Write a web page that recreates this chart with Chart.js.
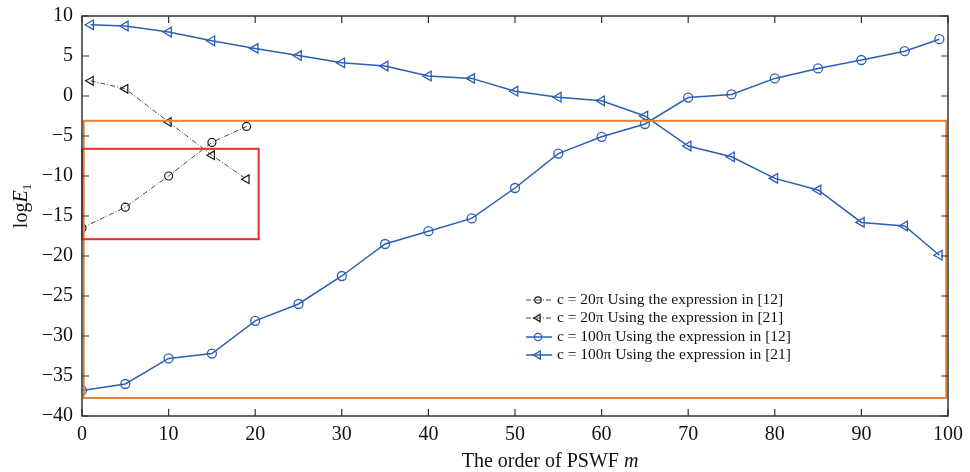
<!DOCTYPE html>
<html>
<head>
<meta charset="utf-8">
<script src="https://cdn.jsdelivr.net/npm/chart.js@4.4.0/dist/chart.umd.min.js"></script>
<style>
  body { margin: 0; background: #fff; }
  #wrap { width: 970px; height: 472px; }
</style>
</head>
<body>
<div id="wrap"><canvas id="chart" width="970" height="472"></canvas></div>
<script>
// --- data ---
const mBlackCircle = [0, 5, 10, 15, 19];
const eBlackCircle = [-16.5, -13.9, -10.0, -5.8, -3.8];   // c=20pi, [12]
const mBlackTri = [1, 5, 10, 15, 19];
const eBlackTri = [1.9, 0.9, -3.25, -7.4, -10.4];          // c=20pi, [21]

const mBlueCircle = [0, 5, 10, 15, 20, 25, 30, 35, 40, 45, 50, 55, 60, 65, 70, 75, 80, 85, 90, 95, 99];
const eBlueCircle = [-36.8, -36.0, -32.8, -32.2, -28.1, -26.0, -22.5, -18.5, -16.9, -15.3, -11.5,
                     -7.2, -5.1, -3.5, -0.2, 0.2, 2.2, 3.45, 4.5, 5.6, 7.1];   // c=100pi, [12]
const mBlueTri = [1, 5, 10, 15, 20, 25, 30, 35, 40, 45, 50, 55, 60, 65, 70, 75, 80, 85, 90, 95, 99];
const eBlueTri = [8.9, 8.75, 8.0, 6.9, 5.95, 5.05, 4.15, 3.75, 2.5, 2.2, 0.6,
                  -0.15, -0.6, -2.5, -6.25, -7.6, -10.3, -11.75, -15.8, -16.25, -19.9]; // c=100pi, [21]

const seriesLabels = [
  'c = 20\u03C0 Using the expression in [12]',
  'c = 20\u03C0 Using the expression in [21]',
  'c = 100\u03C0 Using the expression in [12]',
  'c = 100\u03C0 Using the expression in [21]'
];

// highlight boxes in data units [xMin, xMax, yMin, yMax]
const orangeBox = [0.2, 99.8, -37.75, -3.1];
const redBox = [0, 20.4, -17.9, -6.6];

const BLUE = '#2b5fb4';
const BLACK = '#1a1a1a';
const SERIF = '"Liberation Serif", "DejaVu Serif", serif';

function pts(xs, ys) { return xs.map((x, i) => ({ x: x, y: ys[i] })); }
const minus = v => String(v).replace('-', '\u2212');

const dashDot = [5, 2, 1, 2];

const datasets = [
  { label: seriesLabels[0], data: pts(mBlackCircle, eBlackCircle), borderColor: BLACK, borderWidth: 0.8,
    borderDash: dashDot, pointStyle: 'circle', pointRadius: 4, pointBorderWidth: 1.2,
    pointBorderColor: BLACK, pointBackgroundColor: 'rgba(0,0,0,0)' },
  { label: seriesLabels[1], data: pts(mBlackTri, eBlackTri), borderColor: BLACK, borderWidth: 0.8,
    borderDash: dashDot, pointStyle: 'triangle', pointRotation: 270, pointRadius: 5, pointBorderWidth: 1.2,
    pointBorderColor: BLACK, pointBackgroundColor: 'rgba(0,0,0,0)' },
  { label: seriesLabels[2], data: pts(mBlueCircle, eBlueCircle), borderColor: BLUE, borderWidth: 1.5,
    pointStyle: 'circle', pointRadius: 4.5, pointBorderWidth: 1.3,
    pointBorderColor: BLUE, pointBackgroundColor: 'rgba(0,0,0,0)' },
  { label: seriesLabels[3], data: pts(mBlueTri, eBlueTri), borderColor: BLUE, borderWidth: 1.5,
    pointStyle: 'triangle', pointRotation: 270, pointRadius: 5.5, pointBorderWidth: 1.3,
    pointBorderColor: BLUE, pointBackgroundColor: 'rgba(0,0,0,0)' }
];

// frame, inward ticks, boxes, titles and legend
const decor = {
  id: 'decor',
  afterDatasetsDraw(chart) {
    const { ctx, chartArea: a, scales: { x, y } } = chart;
    ctx.save();
    const box = (b, color) => {
      const l = x.getPixelForValue(b[0]), r = x.getPixelForValue(b[1]);
      const t = y.getPixelForValue(b[3]), bt = y.getPixelForValue(b[2]);
      ctx.strokeStyle = color;
      ctx.lineWidth = 2;
      ctx.strokeRect(l, t, r - l, bt - t);
    };
    box(orangeBox, '#e0853a');
    box(redBox, '#ec2b2b');

    // frame
    ctx.strokeStyle = '#333';
    ctx.lineWidth = 1.5;
    ctx.strokeRect(a.left, a.top, a.right - a.left, a.bottom - a.top);

    // inward ticks
    ctx.lineWidth = 1.2;
    ctx.beginPath();
    x.ticks.forEach(t => {
      const px = x.getPixelForValue(t.value);
      ctx.moveTo(px, a.bottom); ctx.lineTo(px, a.bottom - 7);
      ctx.moveTo(px, a.top); ctx.lineTo(px, a.top + 7);
    });
    y.ticks.forEach(t => {
      const py = y.getPixelForValue(t.value);
      ctx.moveTo(a.left, py); ctx.lineTo(a.left + 7, py);
      ctx.moveTo(a.right, py); ctx.lineTo(a.right - 7, py);
    });
    ctx.stroke();

    // x title
    ctx.fillStyle = '#111';
    ctx.textBaseline = 'alphabetic';
    const s1 = 'The order of PSWF ';
    ctx.font = 'italic 20px ' + SERIF;
    const wm = ctx.measureText('m').width;
    ctx.font = '20px ' + SERIF;
    const w1 = ctx.measureText(s1).width;
    let sx = 550 - (w1 + wm) / 2;
    ctx.textAlign = 'left';
    ctx.fillText(s1, sx, 467);
    ctx.font = 'italic 20px ' + SERIF;
    ctx.fillText('m', sx + w1, 467);

    // y title: log E_1
    ctx.save();
    ctx.translate(27, 206);
    ctx.rotate(-Math.PI / 2);
    ctx.font = '20px ' + SERIF;
    const wl = ctx.measureText('log').width;
    ctx.font = 'italic 20px ' + SERIF;
    const we = ctx.measureText('E').width;
    ctx.font = '13px ' + SERIF;
    const ws = ctx.measureText('1').width;
    let yx = -(wl + we + ws) / 2;
    ctx.font = '20px ' + SERIF;
    ctx.fillText('log', yx, 0);
    ctx.font = 'italic 20px ' + SERIF;
    ctx.fillText('E', yx + wl, 0);
    ctx.font = '13px ' + SERIF;
    ctx.fillText('1', yx + wl + we, 4);
    ctx.restore();

    // legend
    const rows = [300, 318, 337, 355];
    ctx.font = '15.5px ' + SERIF;
    datasets.forEach((d, i) => {
      const ly = rows[i];
      ctx.strokeStyle = d.borderColor;
      ctx.lineWidth = d.borderWidth;
      ctx.setLineDash(d.borderDash || []);
      ctx.beginPath();
      ctx.moveTo(526, ly); ctx.lineTo(552, ly);
      ctx.stroke();
      ctx.setLineDash([]);
      ctx.fillStyle = 'rgba(0,0,0,0)';
      ctx.lineWidth = d.pointBorderWidth;
      Chart.helpers.drawPoint(ctx, {
        pointStyle: d.pointStyle, rotation: d.pointRotation || 0,
        radius: d.pointRadius - 0.8, borderWidth: d.pointBorderWidth
      }, 538, ly);
      ctx.fillStyle = '#111';
      ctx.textBaseline = 'middle';
      ctx.fillText(d.label, 557, ly);
    });
    ctx.restore();
  }
};

new Chart(document.getElementById('chart').getContext('2d'), {
  type: 'line',
  data: { datasets: datasets },
  options: {
    responsive: false,
    animation: false,
    layout: { padding: { top: 16, right: 22, left: 0, bottom: 0 } },
    plugins: { legend: { display: false }, tooltip: { enabled: false } },
    scales: {
      x: {
        type: 'linear', min: 0, max: 100,
        afterFit: s => { s.height = 56; },
        grid: { display: false, drawTicks: false },
        border: { display: false },
        ticks: { stepSize: 10, padding: 7, color: '#111', font: { family: SERIF, size: 20 }, maxRotation: 0 }
      },
      y: {
        min: -40, max: 10,
        afterFit: s => { s.width = 82; s.paddingTop = 0; s.paddingBottom = 0; },
        grid: { display: false, drawTicks: false },
        border: { display: false },
        ticks: { stepSize: 5, padding: 9, color: '#111', font: { family: SERIF, size: 20 },
                 callback: v => minus(v) }
      }
    }
  },
  plugins: [decor]
});
</script>
</body>
</html>
